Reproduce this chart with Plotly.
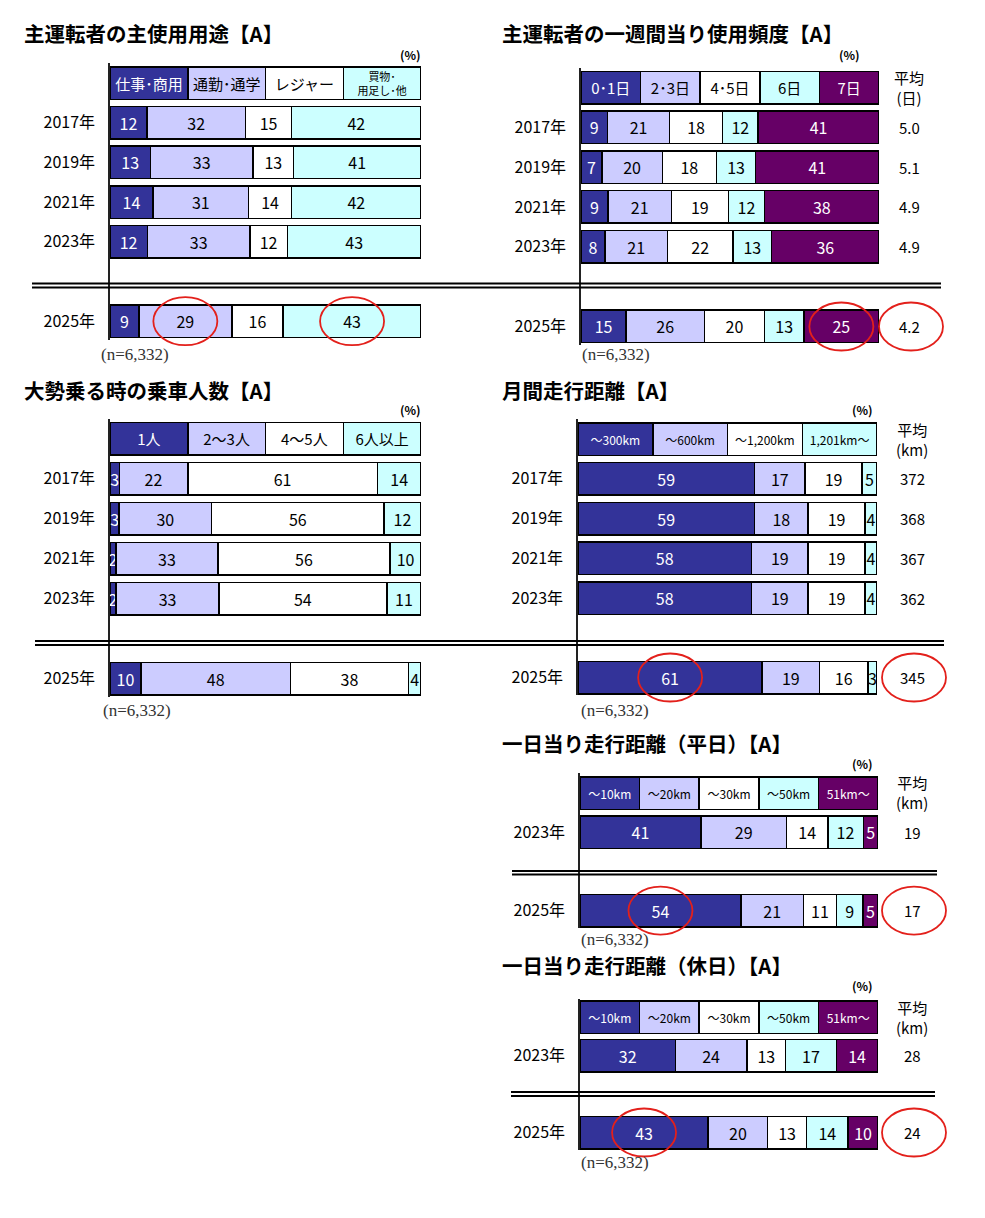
import plotly.graph_objects as go

W, H = 985, 1218
NAVY, LAV, WHT, CYN, PUR = "#333399", "#CCCCFF", "#FFFFFF", "#CCFFFF", "#660066"
FONT = "Noto Sans CJK JP"
SERIF = "Liberation Serif, serif"
RED = "#E3201B"

# ---------------- data ----------------
years5 = ["2017年", "2019年", "2021年", "2023年", "2025年"]
years2 = ["2023年", "2025年"]
sample_note = "(n=6,332)"

use_title = "主運転者の主使用用途【A】"
use_labels = ["仕事･商用", "通勤･通学", "レジャー", "買物･<br>用足し･他"]
use_work = [12, 13, 14, 12, 9]
use_commute = [32, 33, 31, 33, 29]
use_leisure = [15, 13, 14, 12, 16]
use_shop = [42, 41, 42, 43, 43]

freq_title = "主運転者の一週間当り使用頻度【A】"
freq_labels = ["0･1日", "2･3日", "4･5日", "6日", "7日"]
freq_01 = [9, 7, 9, 8, 15]
freq_23 = [21, 20, 21, 21, 26]
freq_45 = [18, 18, 19, 22, 20]
freq_6 = [12, 13, 12, 13, 13]
freq_7 = [41, 41, 38, 36, 25]
freq_avg = ["5.0", "5.1", "4.9", "4.9", "4.2"]
freq_avg_head = "平均<br>(日)"

pax_title = "大勢乗る時の乗車人数【A】"
pax_labels = ["1人", "2～3人", "4～5人", "6人以上"]
pax_1 = [3, 3, 2, 2, 10]
pax_23 = [22, 30, 33, 33, 48]
pax_45 = [61, 56, 56, 54, 38]
pax_6 = [14, 12, 10, 11, 4]

mon_title = "月間走行距離【A】"
mon_labels = ["～300km", "～600km", "～1,200km", "1,201km～"]
mon_300 = [59, 59, 58, 58, 61]
mon_600 = [17, 18, 19, 19, 19]
mon_1200 = [19, 19, 19, 19, 16]
mon_1201 = [5, 4, 4, 4, 3]
mon_avg = ["372", "368", "367", "362", "345"]
km_avg_head = "平均<br>(km)"

day_labels = ["～10km", "～20km", "～30km", "～50km", "51km～"]
wd_title = "一日当り走行距離（平日）【A】"
wd_10 = [41, 54]
wd_20 = [29, 21]
wd_30 = [14, 11]
wd_50 = [12, 9]
wd_51 = [5, 5]
wd_avg = ["19", "17"]

hd_title = "一日当り走行距離（休日）【A】"
hd_10 = [32, 43]
hd_20 = [24, 20]
hd_30 = [13, 13]
hd_50 = [17, 14]
hd_51 = [14, 10]
hd_avg = ["28", "24"]

# ---------------- layout geometry (pixels) ----------------
panels = [
    dict(title=use_title, years=years5, labels=use_labels,
         series=[use_work, use_commute, use_leisure, use_shop],
         colors=[NAVY, LAV, WHT, CYN], hdr_size=[15, 15, 15, 11],
         avg=None, avg_head=None, hl=[1, 3], hl_avg=False,
         xl=110, xr=421, c0=83, pitch=39.7, top=63, bot=340,
         title_xy=(22, 33), pct_xy=(410, 54), n_xy=(99, 355), avg_px=None),
    dict(title=freq_title, years=years5, labels=freq_labels,
         series=[freq_01, freq_23, freq_45, freq_6, freq_7],
         colors=[NAVY, LAV, WHT, CYN, PUR], hdr_size=[15] * 5,
         avg=freq_avg, avg_head=freq_avg_head, hl=[4], hl_avg=True,
         xl=581, xr=879, c0=87.5, pitch=39.83, top=68, bot=345,
         title_xy=(500, 33), pct_xy=(849, 54), n_xy=(580, 355), avg_px=909),
    dict(title=pax_title, years=years5, labels=pax_labels,
         series=[pax_1, pax_23, pax_45, pax_6],
         colors=[NAVY, LAV, WHT, CYN], hdr_size=[15] * 4,
         avg=None, avg_head=None, hl=[], hl_avg=False,
         xl=110, xr=421, c0=438.5, pitch=40, top=419, bot=697,
         title_xy=(22, 390), pct_xy=(410, 410), n_xy=(101, 710), avg_px=None),
    dict(title=mon_title, years=years5, labels=mon_labels,
         series=[mon_300, mon_600, mon_1200, mon_1201],
         colors=[NAVY, LAV, WHT, CYN], hdr_size=[12] * 4,
         avg=mon_avg, avg_head=km_avg_head, hl=[0], hl_avg=True,
         xl=578, xr=877, c0=439, pitch=39.75, top=419, bot=695,
         title_xy=(500, 390), pct_xy=(862, 410), n_xy=(579, 710), avg_px=912),
    dict(title=wd_title, years=years2, labels=day_labels,
         series=[wd_10, wd_20, wd_30, wd_50, wd_51],
         colors=[NAVY, LAV, WHT, CYN, PUR], hdr_size=[12] * 5,
         avg=wd_avg, avg_head=km_avg_head, hl=[0], hl_avg=True,
         xl=580, xr=878, c0=793, pitch=39.2, top=773, bot=928,
         title_xy=(500, 743), pct_xy=(862, 763), n_xy=(579, 940), avg_px=912),
    dict(title=hd_title, years=years2, labels=day_labels,
         series=[hd_10, hd_20, hd_30, hd_50, hd_51],
         colors=[NAVY, LAV, WHT, CYN, PUR], hdr_size=[12] * 5,
         avg=hd_avg, avg_head=km_avg_head, hl=[0], hl_avg=True,
         xl=580, xr=878, c0=1017, pitch=38.5, top=999, bot=1150,
         title_xy=(500, 965), pct_xy=(862, 985), n_xy=(579, 1162), avg_px=912),
]

double_lines = [  # (x0, x1, y_upper, y_lower)
    (32, 941, 283.5, 287.5),
    (35, 944, 641, 645),
    (512, 937, 871, 874.5),
    (511, 935, 1092, 1096),
]

def px(x):
    return x / W

def py(y):
    return 1 - y / H

fig = go.Figure()
annotations = []
shapes = []
layout_axes = {}

for k, p in enumerate(panels, start=1):
    sfx = "" if k == 1 else str(k)
    xa, ya = "x" + sfx, "y" + sfx
    n = len(p["years"])
    rows = list(range(1, n)) + [n + 1]          # gap before the latest survey
    bw = 32.5 / p["pitch"]

    for lab, vals, col, hs in zip(p["labels"], p["series"], p["colors"], p["hdr_size"]):
        tc = "white" if col in (NAVY, PUR) else "black"
        fig.add_trace(go.Bar(
            orientation="h", x=[1] + vals, y=[0] + rows,
            text=[lab] + [str(v) for v in vals],
            width=bw,
            marker=dict(color=col, line=dict(color="black", width=1.5)),
            textposition="inside", insidetextanchor="middle", textangle=0,
            constraintext="none",
            textfont=dict(color=tc, size=[hs] + [16] * n, family=FONT),
            cliponaxis=False, xaxis=xa, yaxis=ya,
            showlegend=False, hoverinfo="skip",
        ))

    layout_axes["xaxis" + sfx] = dict(
        domain=[px(p["xl"]), px(p["xr"])], range=[0, 100], visible=False,
        anchor=ya, fixedrange=True)
    layout_axes["yaxis" + sfx] = dict(
        domain=[py(p["bot"]), py(p["top"])],
        range=[(p["bot"] - p["c0"]) / p["pitch"], (p["top"] - p["c0"]) / p["pitch"]],
        anchor=xa, tickmode="array", tickvals=rows, ticktext=p["years"],
        showline=True, linecolor="#222222", linewidth=1.5,
        showgrid=False, zeroline=False, ticks="",
        tickfont=dict(family=FONT, size=16, color="black"),
        ticklabelstandoff=10, fixedrange=True)

    # title, (%) and sample size
    annotations.append(dict(text=p["title"], xref="paper", yref="paper",
                            x=px(p["title_xy"][0]), y=py(p["title_xy"][1]),
                            xanchor="left", yanchor="middle", showarrow=False,
                            font=dict(family=FONT, size=20.5, color="black", weight="bold")))
    annotations.append(dict(text="(%)", xref="paper", yref="paper",
                            x=px(p["pct_xy"][0]), y=py(p["pct_xy"][1]),
                            xanchor="center", yanchor="middle", showarrow=False,
                            font=dict(family=FONT, size=12, color="black", weight="bold")))
    annotations.append(dict(text=sample_note, xref="paper", yref="paper",
                            x=px(p["n_xy"][0]), y=py(p["n_xy"][1]),
                            xanchor="left", yanchor="middle", showarrow=False,
                            font=dict(family=SERIF, size=17, color="#333333")))

    if p["avg"] is not None:
        annotations.append(dict(text=p["avg_head"], xref="paper", yref=ya,
                                x=px(p["avg_px"]), y=0,
                                xanchor="center", yanchor="middle", showarrow=False,
                                font=dict(family=FONT, size=15, color="black")))
        for r, v in zip(rows, p["avg"]):
            annotations.append(dict(text=v, xref="paper", yref=ya, x=px(p["avg_px"]), y=r,
                                    xanchor="center", yanchor="middle", showarrow=False,
                                    font=dict(family=FONT, size=15, color="black")))

    # red highlight ellipses on the latest row
    last = [s[-1] for s in p["series"]]
    tot = sum(last)
    centers_px = []
    for seg in p["hl"]:
        frac = (sum(last[:seg]) + last[seg] / 2) / tot
        centers_px.append(p["xl"] + frac * (p["xr"] - p["xl"]))
    if p["hl_avg"]:
        centers_px.append(p["avg_px"] + 2)
    row_px = p["c0"] + rows[-1] * p["pitch"]
    for cx in centers_px:
        shapes.append(dict(type="circle", xref="paper", yref="paper",
                           xsizemode="pixel", xanchor=px(cx), x0=-32, x1=32,
                           ysizemode="pixel", yanchor=py(row_px), y0=-24, y1=24,
                           line=dict(color=RED, width=1.8)))

for x0, x1, y1, y2 in double_lines:
    for yy in (y1, y2):
        shapes.append(dict(type="line", xref="paper", yref="paper",
                           x0=px(x0), x1=px(x1), y0=py(yy), y1=py(yy),
                           line=dict(color="black", width=1.8)))

fig.update_layout(
    width=W, height=H, margin=dict(l=0, r=0, t=0, b=0, pad=0),
    paper_bgcolor="white", plot_bgcolor="rgba(0,0,0,0)",
    barmode="stack", barnorm="percent",
    font=dict(family=FONT, color="black"),
    annotations=annotations, shapes=shapes, showlegend=False,
    **layout_axes,
)

fig.write_html("out.html", config={"displayModeBar": False},
               post_script="document.body.style.margin='0';")
